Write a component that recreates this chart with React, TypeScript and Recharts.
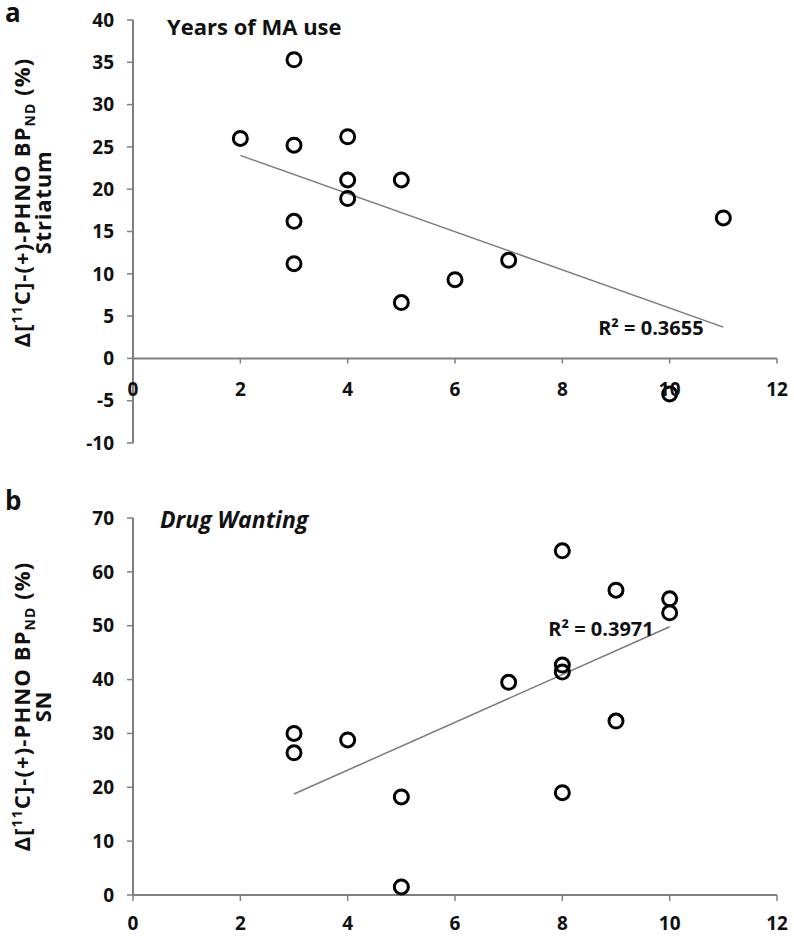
import React from "react";
import {
  ScatterChart,
  Scatter,
  XAxis,
  YAxis,
  ReferenceLine,
  ReferenceDot,
} from "recharts";

const FONT = "'Open Sans', sans-serif";
const AXIS = "#7f7f7f";

// panel a: years of MA use vs striatum
const yearsA = [2, 3, 3, 3, 3, 4, 4, 4, 5, 5, 6, 7, 10, 11];
const striatumA = [26.0, 35.3, 25.2, 16.2, 11.2, 26.2, 21.1, 18.9, 21.1, 6.6, 9.3, 11.6, -4.2, 16.6];
const trendXA = [2, 11];
const trendYA = [24.0, 3.7];
const yTicksA = [-10, -5, 0, 5, 10, 15, 20, 25, 30, 35, 40];

// panel b: drug wanting vs SN
const wantingB = [3, 3, 4, 5, 5, 7, 8, 8, 8, 8, 9, 9, 10, 10];
const snB = [30.0, 26.4, 28.8, 18.2, 1.5, 39.5, 63.9, 42.7, 41.4, 19.0, 56.6, 32.3, 55.0, 52.4];
const trendXB = [3, 10];
const trendYB = [18.75, 49.8];
const yTicksB = [0, 10, 20, 30, 40, 50, 60, 70];

const xTicks = [0, 2, 4, 6, 8, 10, 12];

const pointsA = yearsA.map((x, i) => ({ x, y: striatumA[i] }));
const pointsB = wantingB.map((x, i) => ({ x, y: snB[i] }));

const tickStyle = { fill: "#111", fontSize: 19, fontWeight: 700, fontFamily: FONT };
const r2Style = { fill: "#111", fontSize: 20, fontWeight: 700, fontFamily: FONT };

const Ring = (props: any) => (
  <circle cx={props.cx} cy={props.cy} r={7} fill="none" stroke="#000" strokeWidth={3} />
);

const AxisTitle = ({ viewBox, sub, shift }: any) => {
  const cy = viewBox.y + viewBox.height / 2 + shift;
  return (
    <g fontFamily={FONT} fontWeight={700} fill="#111" fontSize={22}>
      <text transform={`translate(30,${cy}) rotate(-90)`} textAnchor="middle" letterSpacing={1.1}>
        Δ[<tspan dy={-8} fontSize={14}>11</tspan>
        <tspan dy={8}>C]-(+)-PHNO BP</tspan>
        <tspan dy={5} fontSize={14}>ND</tspan>
        <tspan dy={-5}> (%)</tspan>
      </text>
      <text transform={`translate(51,${cy}) rotate(-90)`} textAnchor="middle" letterSpacing={0.8}>
        {sub}
      </text>
    </g>
  );
};

export default function App() {
  return (
    <div style={{ position: "absolute", left: 0, top: 0, width: 794, height: 936, background: "#fff" }}>
      <div style={{ position: "absolute", left: 0, top: 0 }}>
        <ScatterChart width={794} height={460} margin={{ top: 20, right: 17, bottom: 17, left: 0 }}>
          <XAxis type="number" dataKey="x" domain={[0, 12]} ticks={xTicks} hide />
          <YAxis
            type="number"
            dataKey="y"
            domain={[-10, 40]}
            ticks={yTicksA}
            width={133}
            interval={0}
            axisLine={{ stroke: AXIS, strokeWidth: 2 }}
            tickLine={{ stroke: AXIS, strokeWidth: 1.5 }}
            tickSize={6}
            tickMargin={13}
            tick={tickStyle}
            label={{ content: (p: any) => <AxisTitle {...p} sub="Striatum" shift={-29} /> }}
          />
          <ReferenceLine y={0} stroke={AXIS} strokeWidth={2} ifOverflow="visible" />
          {xTicks.map((t) => (
            <ReferenceLine
              key={t}
              segment={[{ x: t, y: 0 }, { x: t, y: -0.6 }]}
              stroke={AXIS}
              strokeWidth={1.5}
              ifOverflow="visible"
              label={{ value: String(t), position: "bottom", offset: 19, ...tickStyle }}
            />
          ))}
          <ReferenceLine
            segment={[
              { x: trendXA[0], y: trendYA[0] },
              { x: trendXA[1], y: trendYA[1] },
            ]}
            stroke="#7a7a7a"
            strokeWidth={1.5}
          />
          <ReferenceDot
            x={9.65}
            y={3.55}
            r={0}
            stroke="none"
            fill="none"
            label={{ value: "R² = 0.3655", position: "center", ...r2Style }}
          />
          <Scatter data={pointsA} shape={Ring} isAnimationActive={false} />
        </ScatterChart>
      </div>
      <div style={{ position: "absolute", left: 0, top: 460 }}>
        <ScatterChart width={794} height={476} margin={{ top: 58, right: 17, bottom: 5, left: 0 }}>
          <XAxis
            type="number"
            dataKey="x"
            domain={[0, 12]}
            ticks={xTicks}
            interval={0}
            height={36}
            axisLine={{ stroke: AXIS, strokeWidth: 2 }}
            tickLine={{ stroke: AXIS, strokeWidth: 1.5 }}
            tickSize={6}
            tickMargin={16}
            tick={tickStyle}
          />
          <YAxis
            type="number"
            dataKey="y"
            domain={[0, 70]}
            ticks={yTicksB}
            width={133}
            interval={0}
            axisLine={{ stroke: AXIS, strokeWidth: 2 }}
            tickLine={{ stroke: AXIS, strokeWidth: 1.5 }}
            tickSize={6}
            tickMargin={13}
            tick={tickStyle}
            label={{ content: (p: any) => <AxisTitle {...p} sub="SN" shift={0} /> }}
          />
          <ReferenceLine
            segment={[
              { x: trendXB[0], y: trendYB[0] },
              { x: trendXB[1], y: trendYB[1] },
            ]}
            stroke="#7a7a7a"
            strokeWidth={1.5}
          />
          <ReferenceDot
            x={8.72}
            y={49.4}
            r={0}
            stroke="none"
            fill="none"
            label={{ value: "R² = 0.3971", position: "center", ...r2Style }}
          />
          <Scatter data={pointsB} shape={Ring} isAnimationActive={false} />
        </ScatterChart>
      </div>
      <svg
        width={794}
        height={936}
        style={{ position: "absolute", left: 0, top: 0, pointerEvents: "none" }}
        fontFamily={FONT}
        fill="#111"
      >
        <text x={5} y={22} fontSize={26} fontWeight={700}>a</text>
        <text x={5} y={510} fontSize={26} fontWeight={700}>b</text>
        <text x={167} y={35} fontSize={22} fontWeight={700}>Years of MA use</text>
        <text x={160} y={528} fontSize={23} fontWeight={700} fontStyle="italic">Drug Wanting</text>
      </svg>
    </div>
  );
}
